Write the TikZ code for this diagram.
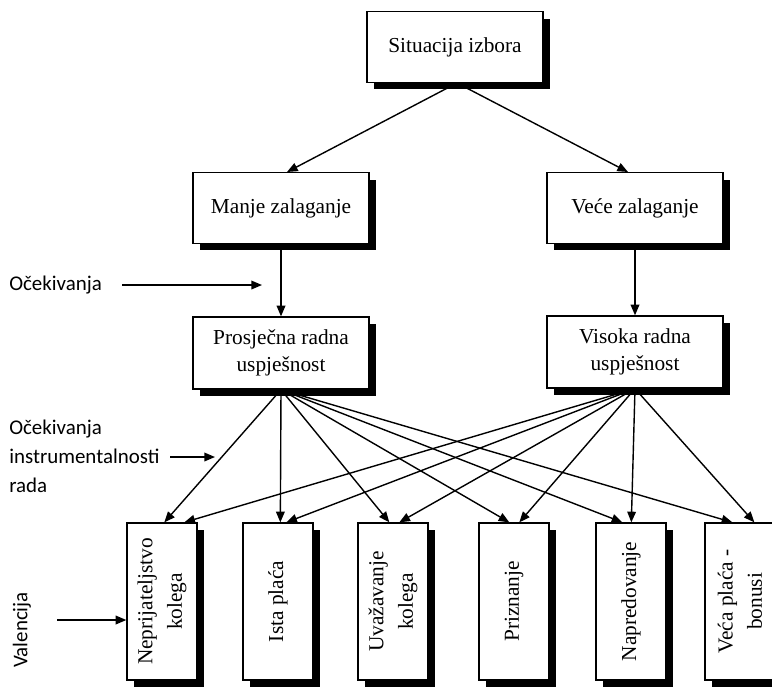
\documentclass[tikz,border=0pt]{standalone}
\usepackage{fontspec}
\setmainfont{Liberation Serif}
\newfontfamily\labfont{Carlito}
\usetikzlibrary{shadows,arrows.meta,calc}
\begin{document}
\begin{tikzpicture}[x=0.75pt,y=-0.75pt,
  sbox/.style={draw, fill=white, line width=1pt, inner sep=2pt,
    font=\fontsize{16}{20.5}\selectfont, align=center,
    drop shadow={shadow xshift=5.2pt, shadow yshift=-5.2pt, fill=black, opacity=1}},
  hbox/.style={sbox, minimum width=132pt, minimum height=53pt},
  vbox/.style={sbox, minimum width=52.5pt, minimum height=117.75pt},
  vtext/.style={rotate=90, font=\fontsize{16}{22}\selectfont, align=center, inner sep=0pt},
  lab/.style={font=\labfont\fontsize{15.7}{21.75}\selectfont, align=left, inner sep=0pt},
  arr/.style={line width=1.05pt, -{Triangle[length=8pt,width=6.5pt]}}]
\useasboundingbox (0,0) rectangle (772,687);

% top levels
\node[hbox] (sit) at (455,47) {Situacija izbora};
\node[hbox] (man) at (281,208) {Manje zalaganje};
\node[hbox] (vec) at (635,208) {Veće zalaganje};
\node[hbox, minimum height=54pt] (pro) at (281,353) {Prosječna radna\\uspješnost};
\node[hbox, minimum height=54pt] (vis) at (635,352) {Visoka radna\\uspješnost};

% bottom boxes
\node[vbox] (nep) at (162,601.5) {};
\node[vbox] (ist) at (278,601.5) {};
\node[vbox] (uva) at (393,601.5) {};
\node[vbox] (pri) at (514,601.5) {};
\node[vbox] (nap) at (631,601.5) {};
\node[vbox] (vep) at (740,601.5) {};
\node[vtext] (tnep) at (nep.center) {Neprijateljstvo\\kolega};
\node[vtext] (tist) at (ist.center) {Ista plaća};
\node[vtext] (tuva) at (uva.center) {Uvažavanje\\kolega};
\node[vtext] (tpri) at (pri.center) {Priznanje};
\node[vtext] (tnap) at (nap.center) {Napredovanje};
\node[vtext] (tvep) at (vep.center) {Veća plaća -\\bonusi};

% arrows top
\coordinate (sitb) at ($(sit.south)+(2,0)$);
\draw[arr] (sitb) -- ($(man.north)+(6,0)$);
\draw[arr] (sitb) -- ($(vec.north)+(-7,0)$);
\draw[arr] (man.south) -- (pro.north);
\draw[arr] (vec.south) -- (vis.north);

% arrows to outcomes
\coordinate (ps) at (pro.south);
\coordinate (vs) at (vis.south);
\draw[arr] (ps) -- ($(nep.north west)+(38,0)$);
\draw[arr] (ps) -- ($(ist.north west)+(38,0)$);
\draw[arr] (ps) -- ($(uva.north west)+(32,0)$);
\draw[arr] (ps) -- ($(pri.north west)+(31,0)$);
\draw[arr] (ps) -- ($(nap.north west)+(27,0)$);
\draw[arr] (ps) -- ($(vep.north west)+(28,0)$);
\draw[arr] (vs) -- ($(nep.north west)+(58,0)$);
\draw[arr] (vs) -- ($(ist.north west)+(44,0)$);
\draw[arr] (vs) -- ($(uva.north west)+(42,0)$);
\draw[arr] (vs) -- ($(pri.north west)+(41,0)$);
\draw[arr] (vs) -- ($(nap.north west)+(36,0)$);
\draw[arr] (vs) -- ($(vep.north west)+(50,0)$);

% left labels
\node[lab, anchor=west] (ock) at (9,285) {Očekivanja};
\coordinate (ocka) at (122,285);
\coordinate (ockb) at (262,285);
\draw[arr] (ocka) -- (ockb);

\node[lab, anchor=west] (ins) at (9,456) {Očekivanja\\instrumentalnosti\\rada};
\coordinate (insa) at (170,457);
\coordinate (insb) at (215,457);
\draw[arr] (insa) -- (insb);

\node[lab, rotate=90] (val) at (22,630) {Valencija};
\coordinate (vala) at (57,620);
\draw[arr] (vala) -- (nep.west |- vala);
\end{tikzpicture}
\end{document}
